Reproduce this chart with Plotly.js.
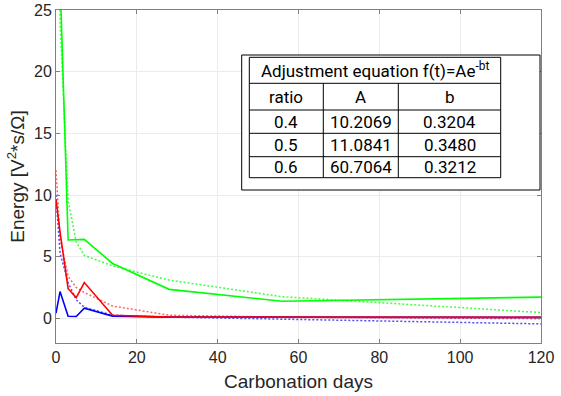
<!DOCTYPE html>
<html>
<head>
<meta charset="utf-8">
<script src="https://cdn.plot.ly/plotly-3.0.1.min.js"></script>
<style>
  html, body { margin: 0; padding: 0; background: #fff; }
  #plot { width: 561px; height: 396px; }
</style>
</head>
<body>
<div id="plot"></div>
<script>
// carbonation days (same sampling for measured and fitted curves)
days = [0, 1, 3, 5, 7, 14, 28, 56, 120];

// measured energy
green_meas = [40, 27.6, 6.35, 6.35, 6.4, 4.45, 2.35, 1.38, 1.72];
red_meas = [9.6, 7.0, 2.4, 1.68, 2.9, 0.25, 0.1, 0.08, 0.08];
blue_meas = [0.42, 2.17, 0.17, 0.15, 0.82, 0.18, 0.1, 0.08, 0.08];

// fitted curves (dotted)
green_fit = [60.7, 24, 9.5, 6.2, 5.1, 4.25, 3.1, 1.75, 0.47];
red_fit = [12.0, 6.5, 3.4, 2.5, 2.1, 1.0, 0.25, 0.1, -0.03];
blue_fit = [10.0, 5.3, 2.9, 1.5, 0.9, 0.25, 0.1, -0.08, -0.45];

// table inset
tableTitle = 'Adjustment equation f(t)=Ae<sup>-bt</sup>';
tableHead = ['ratio', 'A', 'b'];
tableRatio = ['0.4', '0.5', '0.6'];
tableA = ['10.2069', '11.0841', '60.7064'];
tableB = ['0.3204', '0.3480', '0.3212'];

function fitTrace(y, color) {
    return {
        x: days, y: y, type: 'scatter', mode: 'lines',
        line: {color: color, width: 1.5, dash: '2px,2px'},
        hoverinfo: 'skip', showlegend: false
    };
}
function measTrace(y, color) {
    return {
        x: days, y: y, type: 'scatter', mode: 'lines',
        line: {color: color, width: 1.6},
        showlegend: false
    };
}

data = [
    fitTrace(green_fit, 'rgba(0,255,0,0.75)'),
    fitTrace(red_fit, 'rgba(255,0,0,0.6)'),
    fitTrace(blue_fit, 'rgba(0,0,255,0.7)'),
    measTrace(green_meas, '#00ff00'),
    measTrace(blue_meas, '#0000ff'),
    measTrace(red_meas, '#ff0000')
];

// plot area in pixels: x 56..541, y 10..343
function px(x) { return (x - 56) / 485; }
function py(y) { return (343 - y) / 333; }

var cols = [249.3, 323.3, 398.3, 500.7];
var rows = [57.3, 83.3, 110, 133.3, 156.7, 177.7];

shapes = [];
shapes.push({type: 'rect', xref: 'paper', yref: 'paper', layer: 'above',
    x0: px(241.7), x1: px(540), y0: py(190), y1: py(55),
    line: {color: '#000', width: 1}, fillcolor: '#fff'});
shapes.push({type: 'rect', xref: 'paper', yref: 'paper', layer: 'above',
    x0: px(cols[0]), x1: px(cols[3]), y0: py(rows[5]), y1: py(rows[0]),
    line: {color: '#000', width: 1}});
for (var i = 1; i < 5; i++) {
    shapes.push({type: 'line', xref: 'paper', yref: 'paper', layer: 'above',
        x0: px(cols[0]), x1: px(cols[3]), y0: py(rows[i]), y1: py(rows[i]),
        line: {color: '#000', width: 1}});
}
for (var j = 1; j < 3; j++) {
    shapes.push({type: 'line', xref: 'paper', yref: 'paper', layer: 'above',
        x0: px(cols[j]), x1: px(cols[j]), y0: py(rows[5]), y1: py(rows[1]),
        line: {color: '#000', width: 1}});
}

var tfont = {family: 'Roboto, "Open Sans", sans-serif', size: 17, color: '#000'};
annotations = [];
function cell(text, cx, cy) {
    annotations.push({text: text, xref: 'paper', yref: 'paper',
        x: px(cx), y: py(cy), xanchor: 'center', yanchor: 'middle',
        showarrow: false, font: tfont});
}
cell(tableTitle, (cols[0] + cols[3]) / 2, (rows[0] + rows[1]) / 2);
var tableRows = [tableHead].concat(tableRatio.map(function (r, k) {
    return [r, tableA[k], tableB[k]];
}));
tableRows.forEach(function (r, k) {
    var cy = (rows[k + 1] + rows[k + 2]) / 2;
    for (var c = 0; c < 3; c++) cell(r[c], (cols[c] + cols[c + 1]) / 2, cy);
});

var fam = '"Liberation Sans", Arial, sans-serif';
var axFont = {family: fam, size: 16, color: '#262626'};
var titleFont = {family: fam, size: 19, color: '#262626'};

layout = {
    width: 561, height: 396,
    margin: {l: 56, r: 20, t: 10, b: 53},
    paper_bgcolor: '#fff', plot_bgcolor: '#fff',
    xaxis: {
        range: [0, 120], dtick: 20, tick0: 0,
        showgrid: true, gridcolor: '#ebebeb', zeroline: false,
        showline: true, linecolor: '#808080', mirror: 'ticks',
        ticks: 'inside', ticklen: 4, tickcolor: '#808080',
        tickfont: axFont,
        title: {text: 'Carbonation days', font: titleFont, standoff: 9}
    },
    yaxis: {
        range: [-2, 25], tickvals: [0, 5, 10, 15, 20, 25],
        showgrid: true, gridcolor: '#ebebeb', zeroline: false,
        showline: true, linecolor: '#808080', mirror: 'ticks',
        ticks: 'inside', ticklen: 4, tickcolor: '#808080',
        tickfont: axFont,
        title: {text: 'Energy [V<sup>2</sup>*s/Ω]', font: titleFont, standoff: 4}
    },
    shapes: shapes,
    annotations: annotations,
    showlegend: false
};

Plotly.newPlot('plot', data, layout, {staticPlot: true});
</script>
</body>
</html>
